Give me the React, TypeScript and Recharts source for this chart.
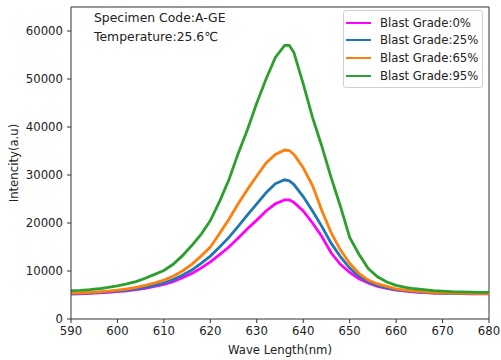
import React from "react"
import { LineChart, Line, XAxis, YAxis, ReferenceLine } from "recharts"

// wavelength samples (nm)
const waveLengths = [
  590, 592, 594, 596, 598, 600, 602, 604, 606, 608, 610, 612, 614, 616, 618,
  620, 622, 624, 626, 628, 630, 632, 634, 636, 637, 638, 640, 642, 644, 646,
  648, 650, 652, 654, 656, 658, 660, 662, 664, 666, 668, 670, 672, 674, 676,
  678, 680,
]

const grade0 = [
  5200, 5250, 5350, 5450, 5550, 5700, 5850, 6100, 6400, 6800, 7200, 7800, 8600,
  9500, 10600, 11900, 13400, 15000, 16900, 18800, 20600, 22500, 24000, 24800,
  24800, 24300, 22500, 20000, 17200, 13800, 11400, 9700, 8400, 7500, 6800,
  6400, 6000, 5800, 5600, 5500, 5400, 5350, 5300, 5300, 5250, 5250, 5250,
]

const grade25 = [
  5300, 5350, 5450, 5550, 5700, 5800, 6000, 6300, 6600, 7000, 7500, 8200, 9100,
  10200, 11600, 13100, 15000, 17000, 19300, 21700, 24000, 26300, 28200, 29000,
  28800, 28000, 25500, 22500, 19300, 15800, 13000, 10600, 8900, 7800, 7000,
  6500, 6100, 5900, 5700, 5550, 5450, 5400, 5350, 5300, 5300, 5300, 5300,
]

const grade65 = [
  5400, 5450, 5550, 5650, 5800, 6000, 6250, 6600, 7000, 7500, 8100, 8900,
  10000, 11400, 13100, 15000, 17800, 20800, 24000, 27000, 29800, 32500, 34300,
  35200, 35100, 34300, 31500, 27800, 22600, 18000, 14400, 11600, 9500, 8100,
  7300, 6800, 6300, 6000, 5800, 5650, 5550, 5450, 5400, 5350, 5350, 5300, 5300,
]

const grade95 = [
  5900, 5950, 6100, 6300, 6600, 6900, 7300, 7800, 8500, 9300, 10100, 11400,
  13200, 15300, 17600, 20500, 24500, 29000, 34500, 39500, 45000, 50000, 54500,
  57000, 57000, 55500, 49000, 42000, 36000, 29500, 23500, 17000, 13500, 10500,
  8800, 7700, 7000, 6600, 6300, 6100, 5900, 5800, 5700, 5650, 5600, 5550, 5550,
]

const xTicks = [590, 600, 610, 620, 630, 640, 650, 660, 670, 680]
const yTicks = [0, 10000, 20000, 30000, 40000, 50000, 60000]

const seriesNames = [
  "Blast Grade:0%",
  "Blast Grade:25%",
  "Blast Grade:65%",
  "Blast Grade:95%",
]
const seriesColors = ["#ff00ff", "#1f77b4", "#ff7f0e", "#2ca02c"]
const seriesKeys = ["g0", "g25", "g65", "g95"]

const data = waveLengths.map((w, i) => ({
  wave: w,
  g0: grade0[i],
  g25: grade25[i],
  g65: grade65[i],
  g95: grade95[i],
}))

const FONT = "'DejaVu Sans', sans-serif"
const TEXT = "#222"

// matplotlib-like legend box in the upper right corner
const LegendBox = () => (
  <div
    style={{
      position: "absolute",
      left: 343,
      top: 10,
      width: 140,
      boxSizing: "border-box",
      border: "1px solid #d0d0d0",
      borderRadius: 3,
      background: "#fff",
      padding: "3px 0 3px 2px",
      fontFamily: FONT,
      fontSize: 11.7,
      color: TEXT,
    }}
  >
    {seriesNames.map((name, i) => (
      <div
        key={name}
        style={{ display: "flex", alignItems: "center", height: 17.6 }}
      >
        <span
          style={{
            display: "inline-block",
            width: 25,
            height: 2,
            background: seriesColors[i],
            marginRight: 9,
          }}
        />
        {name}
      </div>
    ))}
  </div>
)

export default function App() {
  return (
    <div
      style={{
        position: "absolute",
        left: 0,
        top: 0,
        width: 501,
        height: 360,
        background: "#fff",
      }}
    >
      <LineChart
        width={501}
        height={360}
        data={data}
        margin={{ top: 7, right: 12, left: 11, bottom: 1 }}
      >
        <XAxis
          dataKey="wave"
          type="number"
          domain={[590, 680]}
          ticks={xTicks}
          allowDataOverflow
          height={40}
          stroke="#333"
          tickSize={4}
          tickMargin={4}
          tick={{ fontSize: 11.7, fill: TEXT, fontFamily: FONT }}
          label={{
            value: "Wave Length(nm)",
            position: "insideBottom",
            offset: 5,
            fontSize: 11.7,
            fill: TEXT,
            fontFamily: FONT,
          }}
        />
        <YAxis
          type="number"
          domain={[0, 65000]}
          ticks={yTicks}
          allowDataOverflow
          width={60}
          stroke="#333"
          tickSize={4}
          tickMargin={4}
          tick={{ fontSize: 11.7, fill: TEXT, fontFamily: FONT }}
          label={{
            value: "Intencity(a.u)",
            angle: -90,
            position: "insideLeft",
            offset: 3,
            style: { textAnchor: "middle" },
            fontSize: 11.7,
            fill: TEXT,
            fontFamily: FONT,
          }}
        />
        <ReferenceLine y={65000} stroke="#333" />
        <ReferenceLine x={680} stroke="#333" />
        {seriesKeys.map((k, i) => (
          <Line
            key={k}
            dataKey={k}
            name={seriesNames[i]}
            stroke={seriesColors[i]}
            strokeWidth={2.8}
            dot={false}
            type="linear"
            isAnimationActive={false}
          />
        ))}
        <text x={94} y={22} fontSize={12.4} fill={TEXT} fontFamily={FONT}>
          Specimen Code:A-GE
        </text>
        <text x={94} y={41} fontSize={12.4} fill={TEXT} fontFamily={FONT}>
          Temperature:25.6℃
        </text>
      </LineChart>
      <LegendBox />
    </div>
  )
}
